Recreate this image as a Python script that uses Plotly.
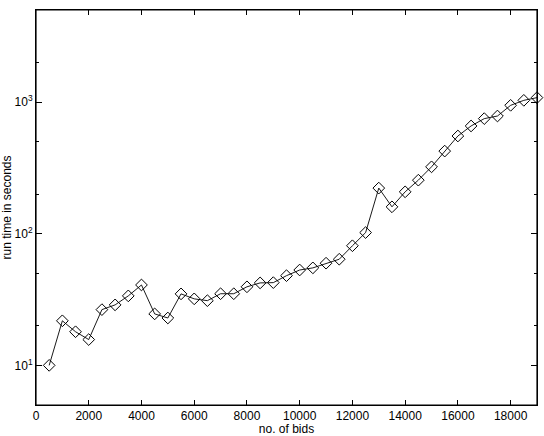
import plotly.graph_objects as go

bids = [500, 1000, 1500, 2000, 2500, 3000, 3500, 4000, 4500, 5000,
        5500, 6000, 6500, 7000, 7500, 8000, 8500, 9000, 9500, 10000,
        10500, 11000, 11500, 12000, 12500, 13000, 13500, 14000, 14500, 15000,
        15500, 16000, 16500, 17000, 17500, 18000, 18500, 19000]
run_time = [10, 21.8, 18, 15.7, 26.5, 28.8, 33.7, 40.8, 24.6, 22.9,
            34.9, 32, 31, 35, 35, 39.5, 42.3, 42.5, 48, 53,
            55, 59.7, 64, 81, 102, 222, 160, 208, 255, 322,
            424, 552, 658, 748, 783, 944, 1030, 1080]

x_ticks = [0, 2000, 4000, 6000, 8000, 10000, 12000, 14000, 16000, 18000]
x_ticktext = [str(v) for v in x_ticks]
y_tickvals = [10, 100, 1000]
y_ticktext = ["10<sup>1</sup>", "10<sup>2</sup>", "10<sup>3</sup>"]

fig = go.Figure()
fig.add_trace(go.Scatter(
    x=bids, y=run_time, mode="lines+markers",
    line=dict(color="black", width=0.9),
    marker=dict(symbol="diamond-open", size=9, color="black", line=dict(width=1, color="black")),
    cliponaxis=False,
))

font = dict(family="Liberation Sans, Arial, sans-serif", size=12, color="black")
fig.update_layout(
    width=544, height=436,
    margin=dict(l=36, r=7, t=10, b=31),
    plot_bgcolor="white", paper_bgcolor="white",
    showlegend=False, font=font,
    xaxis=dict(
        range=[0, 19000], tickvals=x_ticks, ticktext=x_ticktext, ticks="inside", ticklen=5,
        tickcolor="black", showline=True, linecolor="black", linewidth=1,
        mirror="ticks", showgrid=False, zeroline=False, automargin=False,
        title=dict(text="no. of bids", standoff=0, font=font),
    ),
    yaxis=dict(
        type="log", range=[0.69897, 3.69897], tickvals=y_tickvals, ticktext=y_ticktext,
        ticks="inside", ticklen=6, tickcolor="black", showline=True, linecolor="black",
        linewidth=1, mirror="ticks", showgrid=False, zeroline=False, automargin=False,
        minor=dict(ticks="inside", ticklen=3, tickcolor="black", dtick="D2", showgrid=False),
        title=dict(text="run time in seconds", standoff=0, font=font),
    ),
)
fig.add_shape(type="rect", xref="x domain", yref="y domain", x0=0, x1=1, y0=0, y1=1,
              line=dict(color="black", width=1.2), fillcolor="rgba(0,0,0,0)", layer="above")

fig.write_html("out.html", config={"displayModeBar": False},
               post_script="document.body.style.margin='0';document.body.style.overflow='hidden';")
